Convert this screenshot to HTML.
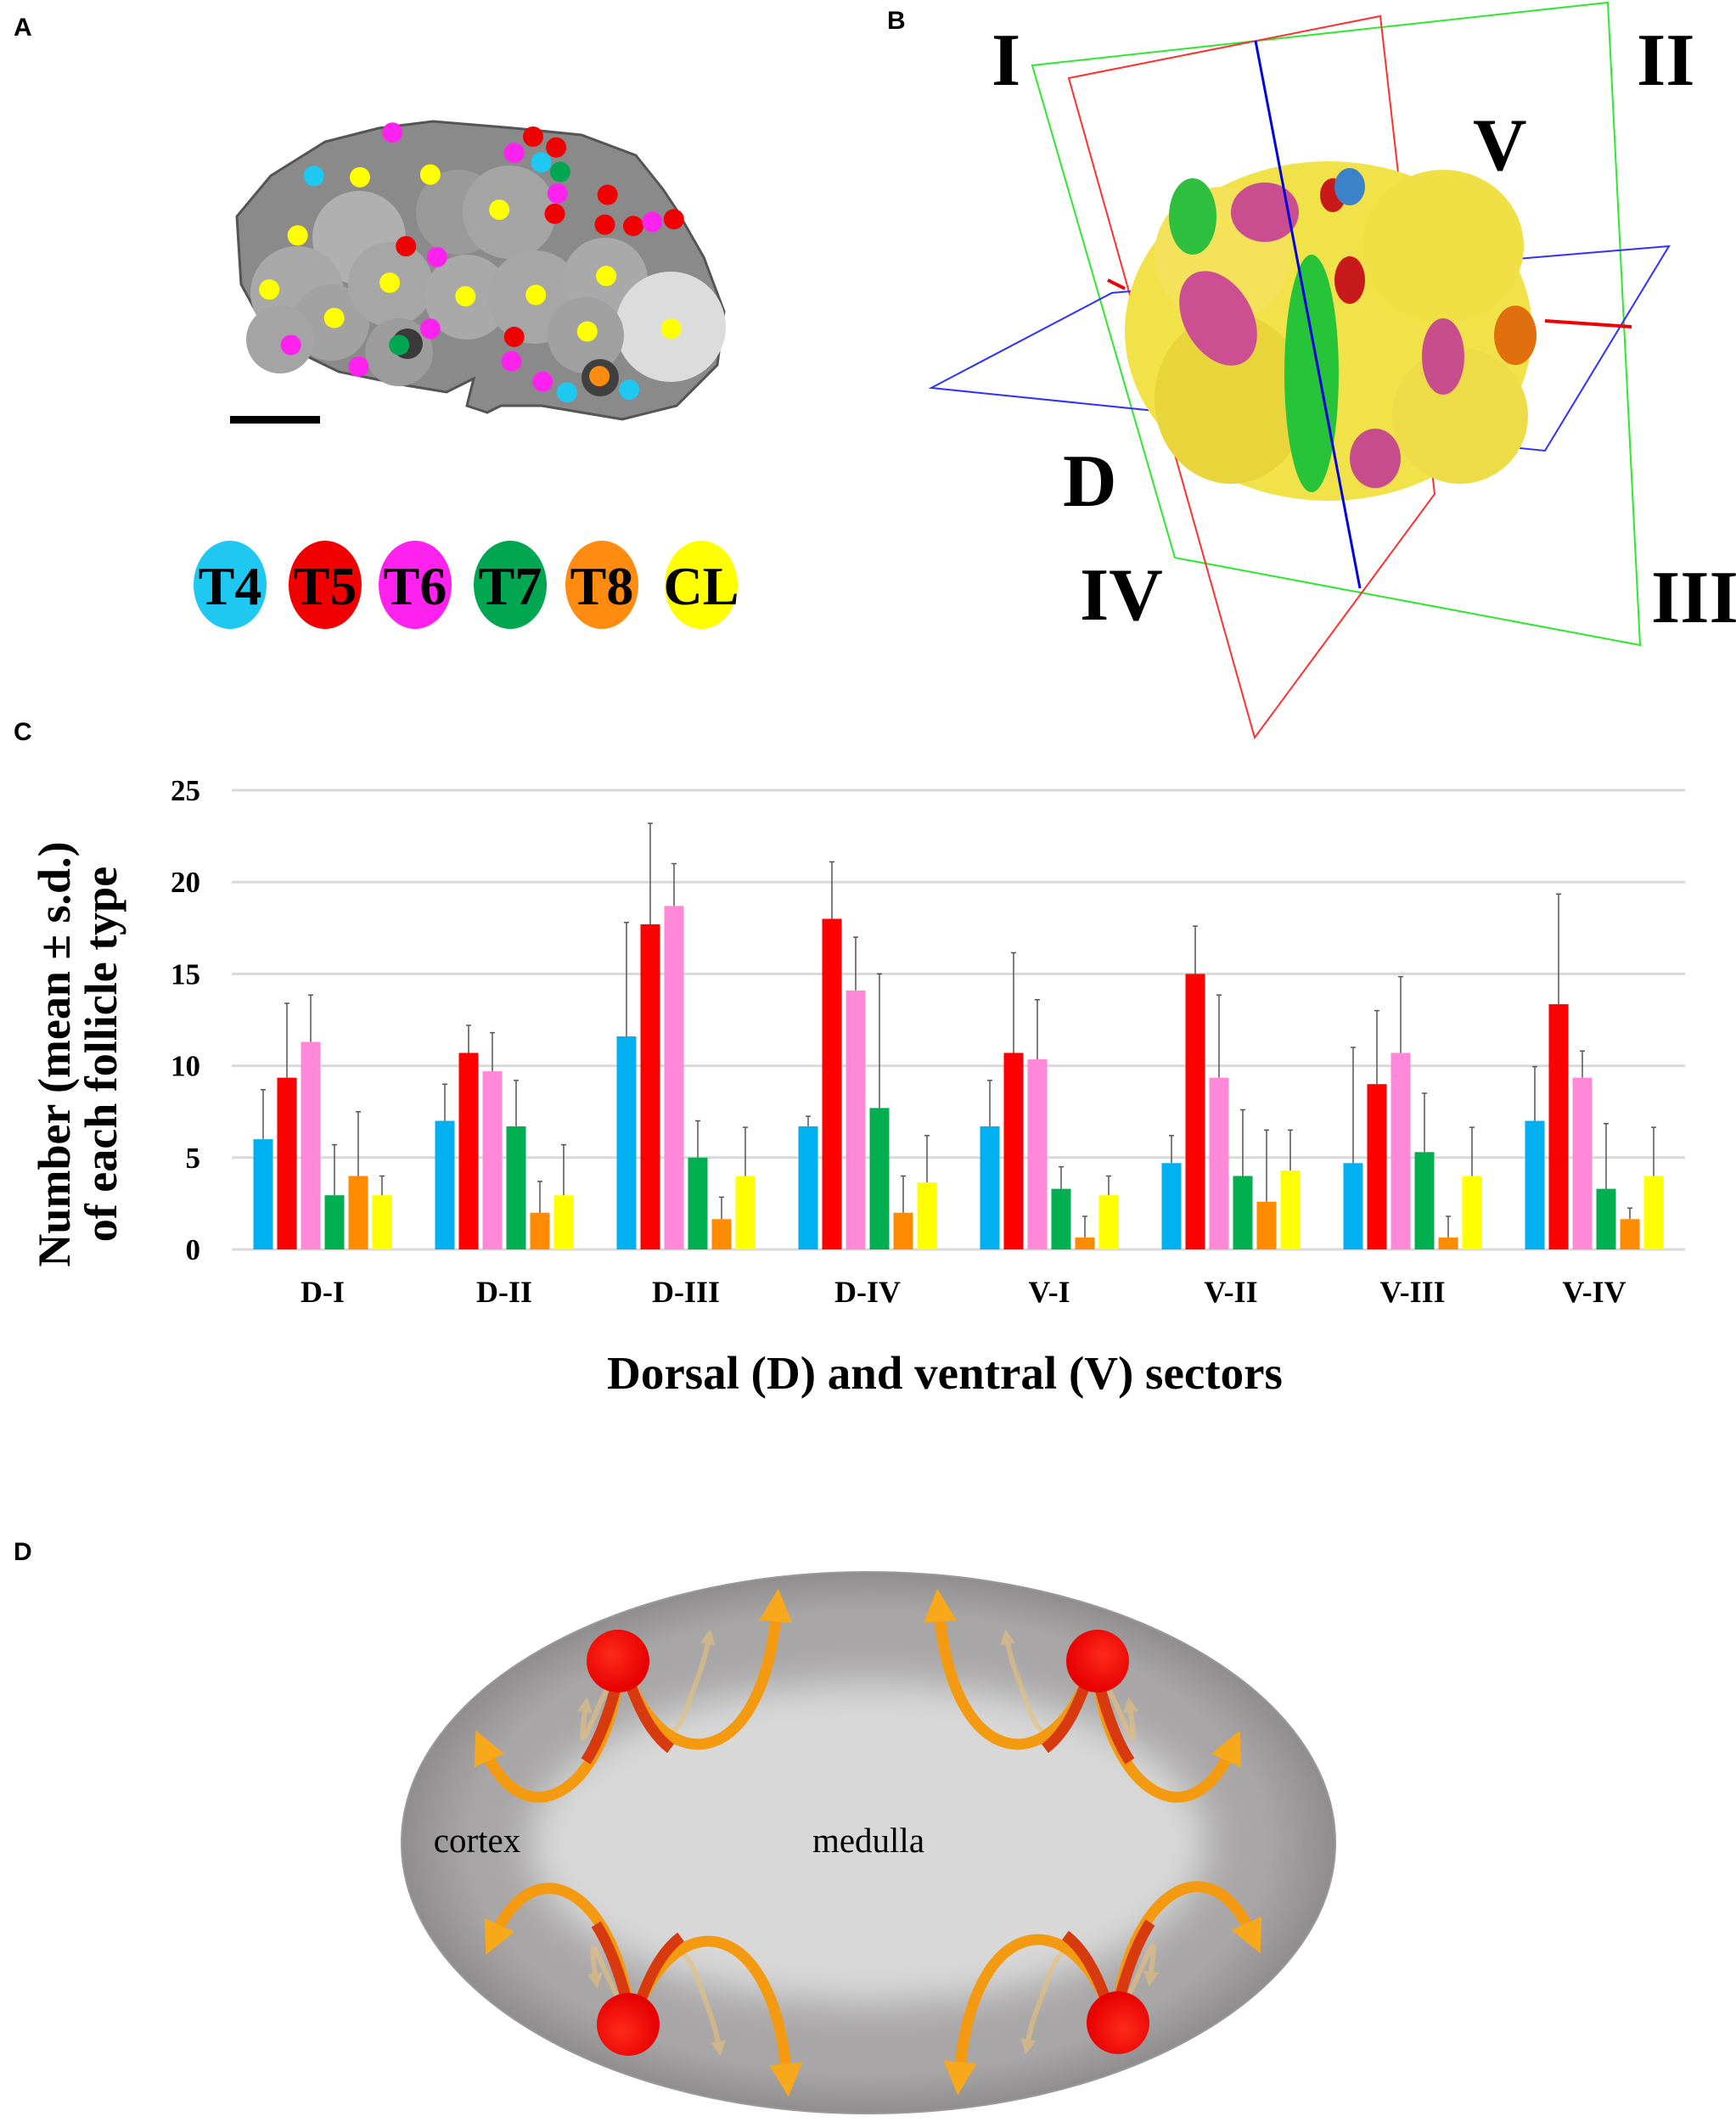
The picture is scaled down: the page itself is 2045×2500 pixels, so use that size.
<!DOCTYPE html>
<html><head><meta charset="utf-8"><style>
html,body{margin:0;padding:0;background:#fff;}
svg{display:block;}
.pl{font-family:"Liberation Sans",sans-serif;font-weight:bold;font-size:30px;}
.sf{font-family:"Liberation Serif",serif;font-weight:bold;}
</style></head><body>
<svg id="fig" width="2045" height="2500" viewBox="0 0 2045 2500" xmlns="http://www.w3.org/2000/svg">
<defs>
<radialGradient id="outer" cx="50%" cy="50%" r="50%">
<stop offset="85%" stop-color="#a8a6a6"/><stop offset="100%" stop-color="#8f8d8d"/>
</radialGradient>
<filter id="blur"><feGaussianBlur stdDeviation="22"/></filter>
<marker id="ah" markerWidth="3" markerHeight="3" refX="1.2" refY="1.5" orient="auto"><path d="M0,0 L3,1.5 L0,3 z" fill="#f7a81b"/></marker>
<marker id="ahf" markerWidth="3" markerHeight="3" refX="1.2" refY="1.5" orient="auto"><path d="M0,0 L3,1.5 L0,3 z" fill="#e8c07a"/></marker>
<linearGradient id="ag" x1="0" y1="0" x2="0" y2="1"><stop offset="0%" stop-color="#d83010"/><stop offset="60%" stop-color="#f39a10"/><stop offset="100%" stop-color="#f7b020"/></linearGradient>
<radialGradient id="ball" cx="40%" cy="40%" r="60%"><stop offset="0%" stop-color="#ff2a1a"/><stop offset="100%" stop-color="#e60000"/></radialGradient>
</defs>

<text class="pl" x="16" y="42">A</text>
<text class="pl" x="1045" y="34">B</text>
<text class="pl" x="16" y="872">C</text>
<text class="pl" x="16" y="1838">D</text>

<g id="panelA">
<path d="M279,255 L319,207 L383,167 L446,151 L510,143 L606,151 L685,159 L749,183 L781,223 L797,247 L829,303 L853,367 L845,430 L797,478 L733,494 L638,478 L590,478 L574,486 L550,478 L558,446 L526,462 L478,454 L399,438 L319,399 L284,335 Z" fill="#8a8a8a" stroke="#555" stroke-width="3"/>
<circle cx="423" cy="280" r="55" fill="#b0b0b0"/><circle cx="350" cy="345" r="55" fill="#a8a8a8"/>
<circle cx="540" cy="250" r="50" fill="#9a9a9a"/><circle cx="600" cy="250" r="55" fill="#a4a4a4"/>
<circle cx="390" cy="380" r="45" fill="#a2a2a2"/><circle cx="460" cy="335" r="50" fill="#a6a6a6"/>
<circle cx="550" cy="350" r="50" fill="#a9a9a9"/><circle cx="630" cy="350" r="55" fill="#a6a6a6"/>
<circle cx="713" cy="330" r="50" fill="#a9a9a9"/><circle cx="330" cy="400" r="40" fill="#a4a4a4"/>
<circle cx="790" cy="385" r="65" fill="#dcdcdc"/><circle cx="690" cy="395" r="45" fill="#a0a0a0"/>
<circle cx="470" cy="415" r="40" fill="#9c9c9c"/><circle cx="480" cy="405" r="18" fill="#3a3a3a"/>
<circle cx="707" cy="445" r="22" fill="#404040"/>
</g>
<rect x="271" y="490" width="106" height="9" fill="#000"/>
<g id="dots"></g>
<g id="legendA"></g>

<g id="panelB">
<polygon points="1216,77 1894,3 1932,760 1384,657" fill="none" stroke="#2ee82e" stroke-width="2"/>
<polygon points="1259,92 1626,19 1690,582 1478,869" fill="none" stroke="#ff3030" stroke-width="2"/>
<polygon points="1097,457 1310,345 1966,290 1820,531" fill="none" stroke="#3030ff" stroke-width="2"/>
<ellipse cx="1565" cy="390" rx="240" ry="200" fill="#f2e24a"/>
<ellipse cx="1440" cy="300" rx="80" ry="80" fill="#f4e35a"/>
<ellipse cx="1700" cy="290" rx="95" ry="90" fill="#f0df45"/>
<ellipse cx="1450" cy="470" rx="90" ry="100" fill="#e8d53c"/>
<ellipse cx="1720" cy="490" rx="80" ry="80" fill="#eedb48"/>
<ellipse cx="1545" cy="440" rx="32" ry="140" fill="#27c43a"/>
<ellipse cx="1405" cy="255" rx="28" ry="45" fill="#2fbf3e"/>
<ellipse cx="1490" cy="250" rx="40" ry="35" fill="#c94d8f"/>
<ellipse cx="1435" cy="375" rx="40" ry="60" fill="#cc4f92" transform="rotate(-30 1435 375)"/>
<ellipse cx="1700" cy="420" rx="25" ry="45" fill="#c84d8d"/>
<ellipse cx="1785" cy="395" rx="25" ry="35" fill="#e0700e"/>
<ellipse cx="1590" cy="330" rx="18" ry="28" fill="#c81a1a"/>
<ellipse cx="1570" cy="230" rx="15" ry="20" fill="#c81a1a"/>
<ellipse cx="1590" cy="220" rx="18" ry="22" fill="#3b82c8"/>
<ellipse cx="1620" cy="540" rx="30" ry="35" fill="#c84d8d"/>
<line x1="1479" y1="48" x2="1602" y2="693" stroke="#0000e0" stroke-width="3"/>
<line x1="1305" y1="330" x2="1325" y2="340" stroke="#e00" stroke-width="4"/>
<line x1="1820" y1="378" x2="1922" y2="385" stroke="#e00" stroke-width="4"/>
</g>
<g class="sf" font-size="88">
<text x="1168" y="100">I</text>
<text x="1928" y="100">II</text>
<text x="1735" y="200">V</text>
<text x="1252" y="596">D</text>
<text x="1272" y="730">IV</text>
<text x="1945" y="733">III</text>
</g>

<g id="chart"></g>

<g id="panelD">
<ellipse cx="1023" cy="2171" rx="550" ry="319" fill="url(#outer)" stroke="#9a9898" stroke-width="2"/>
<ellipse cx="1023" cy="2171" rx="400" ry="190" fill="#d8d8d8" filter="url(#blur)"/>
<text x="562" y="2182" font-family="Liberation Serif,serif" font-size="41" text-anchor="middle">cortex</text>
<text x="1023" y="2182" font-family="Liberation Serif,serif" font-size="41" text-anchor="middle">medulla</text>
<g id="arrowsTL">
<path d="M740,1990 C760,2040 790,2070 810,2010 C820,1980 830,1960 835,1930" fill="none" stroke="#e8c07a" stroke-width="6" opacity="0.6" marker-end="url(#ahf)"/>
<path d="M715,1990 C690,2040 680,2080 690,2010" fill="none" stroke="#e8c07a" stroke-width="6" opacity="0.6" marker-end="url(#ahf)"/>
<path d="M728,1978 C710,2110 620,2170 570,2060" fill="none" stroke="#f39a10" stroke-width="13" marker-end="url(#ah)"/>
<path d="M740,1978 C790,2100 900,2080 915,1895" fill="none" stroke="#f39a10" stroke-width="13" marker-end="url(#ah)"/>
<path d="M728,1978 C715,2030 700,2060 690,2075" fill="none" stroke="#d83a10" stroke-width="13"/>
<path d="M740,1978 C755,2020 770,2045 790,2060" fill="none" stroke="#d83a10" stroke-width="13"/>
<circle cx="728" cy="1957" r="37" fill="url(#ball)"/>
</g>
<use href="#arrowsTL" transform="translate(2021,0) scale(-1,1)"/>
<use href="#arrowsTL" transform="translate(12,4342) scale(1,-1)"/>
<use href="#arrowsTL" transform="translate(2045,4340) scale(-1,-1)"/>
</g>
</svg>
<script>
var NS="http://www.w3.org/2000/svg";
function mk(tag,attrs,parent){var e=document.createElementNS(NS,tag);for(var k in attrs)e.setAttribute(k,attrs[k]);parent.appendChild(e);return e;}

var C={c:"#1ec8f0",r:"#f00000",m:"#ff22ee",g:"#00a650",o:"#ff8c10",y:"#ffff00"};
var dots=[[290,98,'m'],[232,130,'c'],[266,131,'y'],[318,129,'y'],[394,101,'r'],[380,113,'m'],[411,109,'r'],[400,120,'c'],[414,127,'g'],[412,143,'m'],[449,144,'r'],[410,158,'r'],[369,155,'y'],[447,166,'r'],[468,167,'r'],[482,164,'m'],[498,162,'r'],[220,174,'y'],[300,182,'r'],[323,190,'m'],[199,214,'y'],[288,209,'y'],[344,219,'y'],[396,218,'y'],[448,204,'y'],[247,235,'y'],[318,243,'m'],[434,245,'y'],[496,243,'y'],[380,249,'r'],[215,255,'m'],[295,255,'g'],[265,271,'m'],[378,267,'m'],[401,282,'m'],[443,278,'o'],[419,290,'c'],[465,288,'c']];
var dg=document.getElementById('dots');
dots.forEach(function(d){
  var c=mk('circle',{cx:d[0]*1.594,cy:d[1]*1.594,r:12,fill:C[d[2]]},dg);
  
  
});
var leg=[["T4","c",271],["T5","r",383],["T6","m",489],["T7","g",601],["T8","o",709],["CL","y",826]];
var lg=document.getElementById('legendA');
leg.forEach(function(l){
  var e=mk('ellipse',{cx:l[2],cy:689,rx:43,ry:52,fill:C[l[1]]},lg);
  
  
  var t=mk('text',{x:l[2],y:712,'text-anchor':'middle','font-family':'Liberation Serif,serif','font-weight':'bold','font-size':'64'},lg);
  t.textContent=l[0];
  
  
});

var categories=["D-I","D-II","D-III","D-IV","V-I","V-II","V-III","V-IV"];
var seriesNames=["T4","T5","T6","T7","T8","CL"];
var T4=[6.0,7.0,11.6,6.7,6.7,4.7,4.7,7.0];
var T5=[9.35,10.7,17.7,18.0,10.7,15.0,9.0,13.35];
var T6=[11.3,9.7,18.7,14.1,10.35,9.35,10.7,9.35];
var T7=[2.95,6.7,5.0,7.7,3.3,4.0,5.3,3.3];
var T8=[4.0,2.0,1.65,2.0,0.65,2.6,0.65,1.65];
var CL=[2.95,2.95,4.0,3.65,2.95,4.3,4.0,4.0];
var sdT4=[2.7,2.0,6.2,0.55,2.5,1.5,6.3,2.95];
var sdT5=[4.05,1.5,5.5,3.1,5.45,2.6,4.0,6.0];
var sdT6=[2.55,2.1,2.3,2.9,3.25,4.5,4.15,1.45];
var sdT7=[2.75,2.5,2.0,7.3,1.2,3.6,3.2,3.55];
var sdT8=[3.5,1.7,1.2,2.0,1.15,3.9,1.15,0.6];
var sdCL=[1.05,2.75,2.65,2.55,1.05,2.2,2.65,2.65];
var yTicks=[0,5,10,15,20,25];

var series=[T4,T5,T6,T7,T8,CL], sds=[sdT4,sdT5,sdT6,sdT7,sdT8,sdCL];
var colors=["#00b0f0","#ff0000","#ff88d8","#00b050","#ff8c00","#ffff00"];
var X0=273,X1=1985,Y0=1472,Y1=931,YMAX=25;
function y(v){return Y0-(v/YMAX)*(Y0-Y1);}
var bw=(X1-X0)/categories.length;
function xc(i){return X0+bw*(i+0.5);}
var pitch=28,barW=23;
var g=document.getElementById('chart');
yTicks.forEach(function(t){
  var l=mk('line',{x1:X0,x2:X1,y1:y(t),y2:y(t),stroke:"#d9d9d9","stroke-width":3},g);
  
  
  var tx=mk('text',{x:236,y:y(t)+12,'text-anchor':'end','font-family':'Liberation Serif,serif','font-weight':'bold','font-size':'35'},g);
  tx.textContent=t;
  
  
});
categories.forEach(function(c,i){
  series.forEach(function(s,j){
    var x=xc(i)+(j-2.5)*pitch-barW/2;
    var r=mk('rect',{x:x,y:y(s[i]),width:barW,height:Y0-y(s[i]),fill:colors[j]},g);
    
    
    var cx=x+barW/2, top=y(s[i]+sds[j][i]);
    var e=mk('path',{d:'M'+cx+','+y(s[i])+' L'+cx+','+top+' M'+(cx-3)+','+top+' L'+(cx+3)+','+top,stroke:"#555","stroke-width":1.5,fill:"none"},g);
    
    
  });
  var t=mk('text',{x:xc(i),y:1534,'text-anchor':'middle','font-family':'Liberation Serif,serif','font-weight':'bold','font-size':'36'},g);
  t.textContent=c;
  
  
});
var xt=mk('text',{x:1113,y:1636,'text-anchor':'middle','font-family':'Liberation Serif,serif','font-weight':'bold','font-size':'55'},g);
xt.textContent="Dorsal (D) and ventral (V) sectors";


var yt=mk('text',{transform:'translate(82,1242) rotate(-90)','text-anchor':'middle','font-family':'Liberation Serif,serif','font-weight':'bold','font-size':'54'},g);


var s1=mk('tspan',{x:0,dy:0},yt);s1.textContent="Number (mean \u00b1 s.d.)";
var s2=mk('tspan',{x:0,dy:55},yt);s2.textContent="of each follicle type";
</script>
</body></html>
